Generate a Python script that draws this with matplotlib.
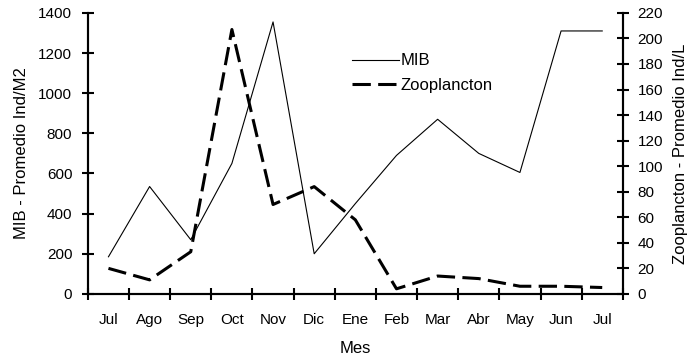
import numpy as np
import matplotlib.pyplot as plt
from matplotlib.ticker import FixedLocator

plt.rcParams['font.family'] = ['Liberation Sans', 'DejaVu Sans']
plt.rcParams['font.size'] = 12

# monthly averages, Jul to Jul
meses = ['Jul', 'Ago', 'Sep', 'Oct', 'Nov', 'Dic', 'Ene', 'Feb', 'Mar', 'Abr', 'May', 'Jun', 'Jul']
mib = [185, 535, 270, 650, 1355, 200, 450, 690, 870, 700, 605, 1310, 1310]
zoo = [20, 11, 33, 207, 70, 84, 58, 4, 14, 12, 6, 6, 5]

x = np.arange(len(meses))

fig = plt.figure(figsize=(6.92, 3.58), dpi=100)
ax = fig.add_axes([0.127, 0.179, 0.773, 0.785])
ax2 = ax.twinx()

l1, = ax.plot(x, mib, color='black', lw=0.8, label='MIB')
l2, = ax2.plot(x, zoo, color='black', lw=2.2, dashes=(6, 2.4), label='Zooplancton')

ax.set_xlim(-0.5, len(meses) - 0.5)
ax.set_ylim(0, 1400)
ax.set_yticks(np.arange(0, 1401, 200))
ax2.set_ylim(0, 220)
ax2.set_yticks(np.arange(0, 221, 20))

# month labels sit between boundary ticks
ax.set_xticks(x)
ax.set_xticklabels(meses)
ax.xaxis.set_minor_locator(FixedLocator(np.arange(-0.5, len(meses), 1.0)))
ax.tick_params(axis='x', which='major', length=0, pad=13.5, labelsize=11)
ax.tick_params(axis='x', which='minor', direction='inout', length=8.5, width=1.5)
ax.tick_params(axis='y', direction='inout', length=8.5, width=1.5, pad=7, labelsize=11)
ax2.tick_params(axis='y', direction='inout', length=8.5, width=1.5, pad=6.3, labelsize=11)

for a in (ax, ax2):
    a.spines['top'].set_visible(False)
    for s in ('left', 'right', 'bottom'):
        a.spines[s].set_linewidth(1.5)

ax.set_ylabel('MIB - Promedio Ind/M2', labelpad=7)
ax2.set_ylabel('Zooplancton - Promedio Ind/L', labelpad=7.5)
ax.set_xlabel('Mes', labelpad=10.5)

leg = ax2.legend(handles=[l1, l2], loc='upper left', bbox_to_anchor=(0.509, 0.851),
                 bbox_transform=fig.transFigure, frameon=False, borderpad=0,
                 borderaxespad=0, handlelength=2.8, handletextpad=0.1, labelspacing=0.55,
                 fontsize=12)

fig.savefig('out.png', dpi=100)
